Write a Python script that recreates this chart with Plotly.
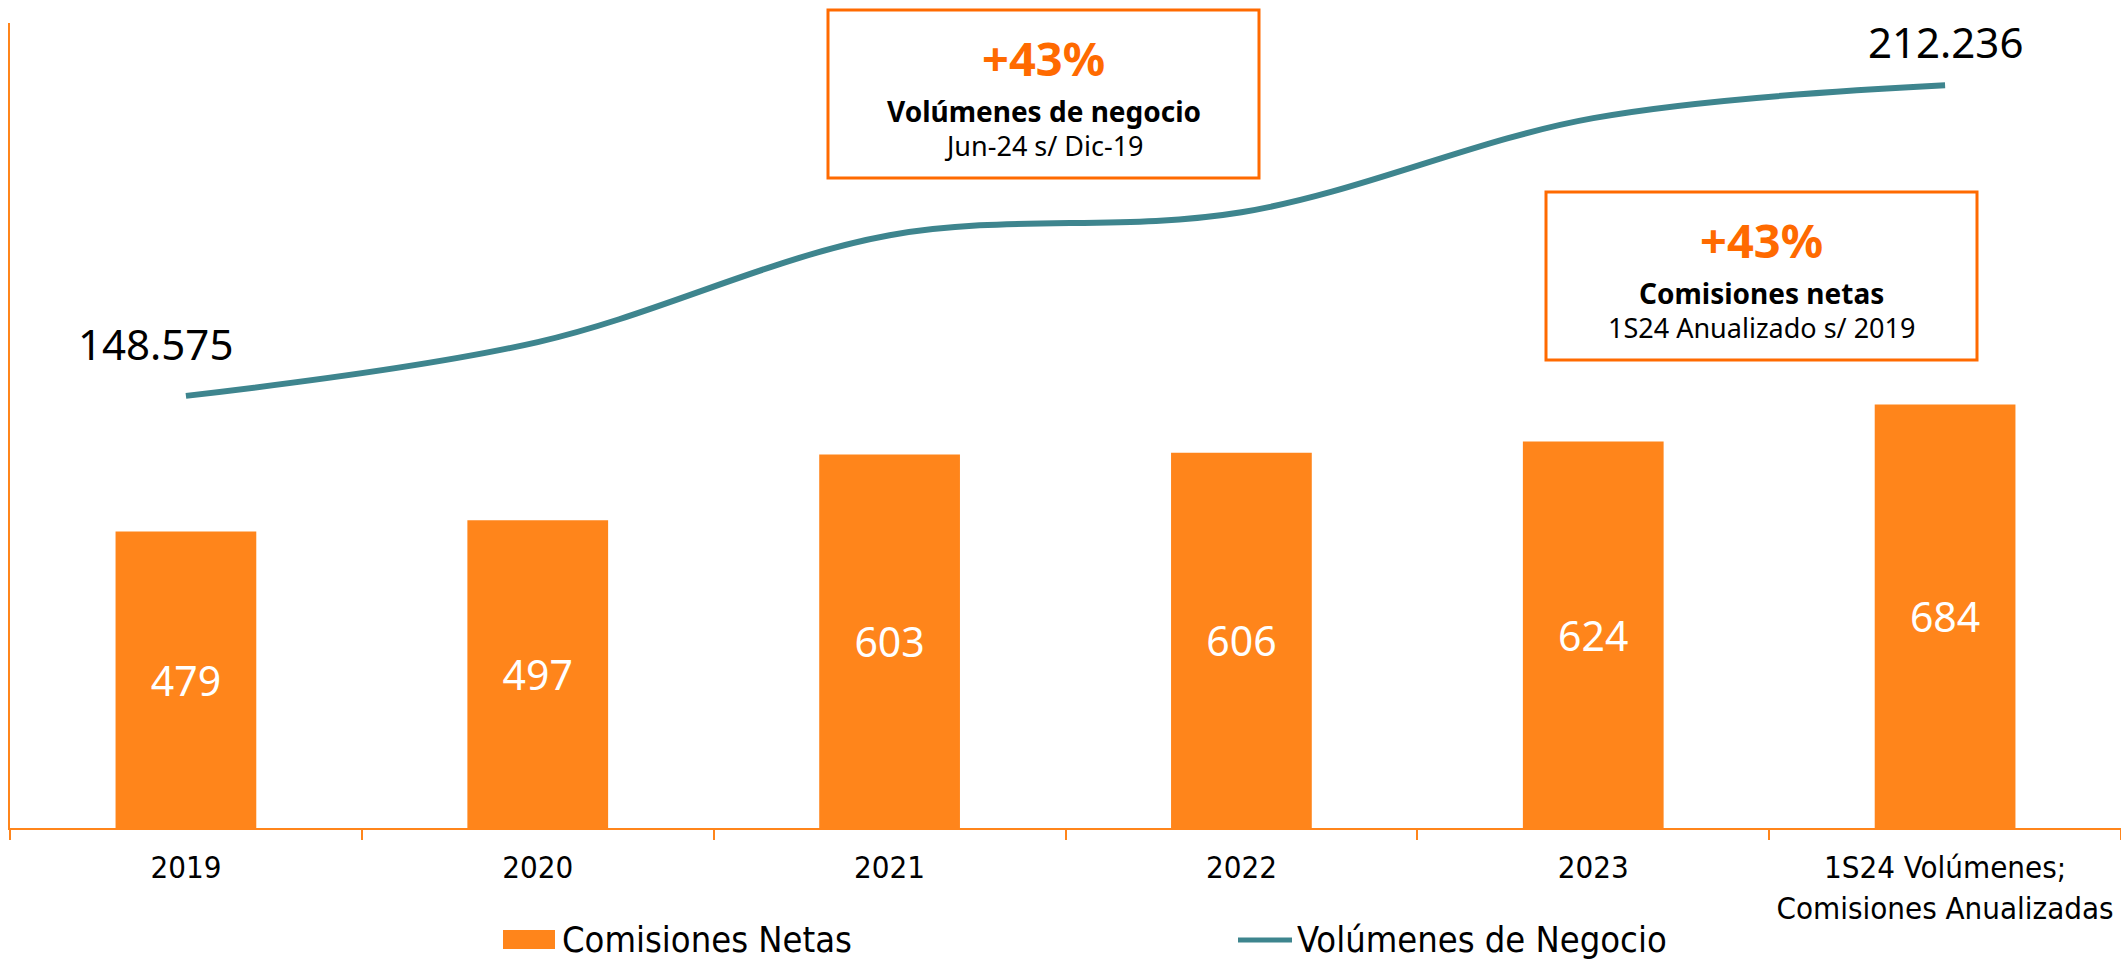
import plotly.graph_objects as go
from plotly.subplots import make_subplots

# data
categories = ["2019", "2020", "2021", "2022", "2023",
              "1S24 Volúmenes;<br>Comisiones Anualizadas"]
comisiones = [479, 497, 603, 606, 624, 684]
volumenes = [148575, 159600, 181500, 186200, 205500, 212236]
volumen_labels = ["148.575", "212.236"]

W, H = 2121, 959
L, R, T, B = 10, 0, 23, 131

ORANGE = "#FF851B"
BOX_ORANGE = "#FF6A00"
TEAL = "#3E858E"
COND = "DejaVu Sans Condensed, Liberation Sans Narrow, Noto Sans"
SANS = "Noto Sans, Open Sans, sans-serif"


def px_x(px):
    # pixel -> paper x
    return (px - L) / (W - L - R)


def px_y(py):
    # pixel -> paper y
    return (H - B - py) / (H - T - B)


fig = make_subplots(specs=[[{"secondary_y": True}]])

fig.add_trace(go.Bar(
    x=categories, y=comisiones, name="Comisiones Netas",
    marker=dict(color=ORANGE, line_width=0),
    text=[str(v) for v in comisiones], textposition="inside",
    insidetextanchor="middle", textangle=0,
    textfont=dict(family=SANS, size=41, color="white"),
    showlegend=False,
), secondary_y=False)

fig.add_trace(go.Scatter(
    x=categories, y=volumenes, name="Volúmenes de Negocio",
    mode="lines", line=dict(color=TEAL, width=6, shape="spline"),
    showlegend=False,
), secondary_y=True)

fig.update_layout(
    width=W, height=H,
    margin=dict(l=L, r=R, t=T, b=B, autoexpand=False),
    paper_bgcolor="white", plot_bgcolor="white",
    bargap=0.6,
    showlegend=False,
)

fig.update_xaxes(
    type="category", domain=[0, 1], automargin=False, tickangle=0,
    showline=True, linecolor=ORANGE, linewidth=2,
    ticks="outside", tickson="boundaries", ticklen=10, tickcolor=ORANGE, tickwidth=1.5,
    ticklabelstandoff=11,
    tickfont=dict(family=COND, size=31, color="black"),
    showgrid=False, zeroline=False,
)
fig.update_yaxes(
    range=[0, 1300], showline=True, linecolor=ORANGE, linewidth=2,
    showticklabels=False, ticks="", showgrid=False, zeroline=False,
    automargin=False, secondary_y=False,
)
fig.update_yaxes(
    range=[60000, 225000], visible=False, showgrid=False,
    automargin=False, secondary_y=True,
)

# end-point labels of the volume line (category axis -> index positions)
first, last = 0, len(categories) - 1
fig.add_annotation(x=first, y=volumenes[first], yref="y2", text=volumen_labels[0],
                   showarrow=False, xshift=-30, yshift=52,
                   xanchor="center", yanchor="middle",
                   font=dict(family=SANS, size=42, color="black"))
fig.add_annotation(x=last, y=volumenes[last], yref="y2", text=volumen_labels[1],
                   showarrow=False, xshift=0, yshift=44,
                   xanchor="center", yanchor="middle",
                   font=dict(family=SANS, size=42, color="black"))

# the two callout boxes
boxes = [
    dict(x0=828, x1=1259, y0=10, y1=178, big="+43%",
         title="Volúmenes de negocio", sub="Jun-24 s/ Dic-19"),
    dict(x0=1546, x1=1977, y0=192, y1=360, big="+43%",
         title="Comisiones netas", sub="1S24 Anualizado s/ 2019"),
]
for b in boxes:
    fig.add_shape(type="rect", xref="paper", yref="paper",
                  x0=px_x(b["x0"]), x1=px_x(b["x1"]),
                  y0=px_y(b["y1"]), y1=px_y(b["y0"]),
                  line=dict(color=BOX_ORANGE, width=3), fillcolor="white", layer="above")
    cx = px_x((b["x0"] + b["x1"]) / 2)
    for dy, txt, size, col in [(48, "<b>" + b["big"] + "</b>", 47, BOX_ORANGE),
                               (101, "<b>" + b["title"] + "</b>", 28, "black"),
                               (135, b["sub"], 27, "black")]:
        fig.add_annotation(xref="paper", yref="paper", x=cx, y=px_y(b["y0"] + dy),
                           xanchor="center", yanchor="middle",
                           text=txt, showarrow=False,
                           font=dict(family=SANS, size=size, color=col))

# legend drawn below the axis
fig.add_shape(type="rect", xref="paper", yref="paper",
              x0=px_x(503), x1=px_x(555), y0=px_y(949), y1=px_y(930),
              fillcolor=ORANGE, line_width=0)
fig.add_annotation(xref="paper", yref="paper", x=px_x(560), y=px_y(939),
                   xanchor="left", yanchor="middle", text="Comisiones Netas", showarrow=False,
                   font=dict(family=COND, size=36, color="black"))
fig.add_shape(type="line", xref="paper", yref="paper",
              x0=px_x(1238), x1=px_x(1292), y0=px_y(940), y1=px_y(940),
              line=dict(color=TEAL, width=5))
fig.add_annotation(xref="paper", yref="paper", x=px_x(1295), y=px_y(939),
                   xanchor="left", yanchor="middle", text="Volúmenes de Negocio", showarrow=False,
                   font=dict(family=COND, size=36, color="black"))

# page body margin would shift the whole figure by 8px
fig.write_html("out.html", config={"displayModeBar": False},
               post_script="document.body.style.margin='0';")
